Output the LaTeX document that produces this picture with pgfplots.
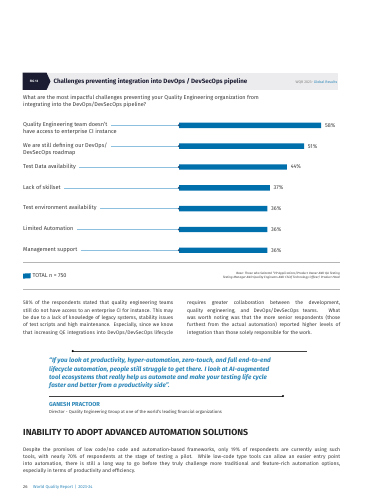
\documentclass[border=0pt]{standalone}
\usepackage{pgfplots}
\pgfplotsset{compat=1.18}
\usepackage{fontspec}
\setmainfont{Fira Sans}
\definecolor{barblue}{HTML}{0070AD}
\definecolor{leadc}{HTML}{8CC0DE}
\definecolor{dotblue}{HTML}{1F4E79}
\definecolor{txt}{HTML}{3A3A3A}
\definecolor{navy}{HTML}{1C1D33}
\definecolor{band}{HTML}{ECECEE}
\definecolor{quotec}{HTML}{2B86B8}
\definecolor{sepc}{HTML}{B5B5B5}
\newcommand{\fs}[2]{\fontsize{#1pt}{#2pt}\selectfont}
\newcommand{\jl}[3]{\node[anchor=base west, inner sep=0pt] at (#1) {\makebox[#2pt][s]{#3}};}
\newcommand{\pl}[2]{\node[anchor=base west, inner sep=0pt] at (#1) {#2};}
\tikzset{
  catlab/.style={font=\fs{5.6}{6.5}, text=txt, inner sep=0pt, text height=4pt, text depth=1.3pt},
  leaderline/.style={leadc, line width=0.5pt},
}
\begin{document}
\begin{tikzpicture}
\path[use as bounding box, fill=white] (0pt,0pt) rectangle (364pt,-500pt);
\begin{scope}[x=1pt,y=-1pt]
% header
\fill[band] (46,72.7) rectangle (338,90);
\fill[navy] (22.7,72.7) -- (46.5,72.7) -- (50.5,81.35) -- (46.5,90) -- (22.7,90) -- cycle;
\node[font=\bfseries\fs{3.2}{4}, text=white, inner sep=0pt] at (34,81.35) {FIG 13};
\node[anchor=base west, inner sep=0pt, font=\bfseries\fs{6.2}{7}, text=navy] at (53.3,83.6) {Challenges preventing integration into DevOps / DevSecOps pipeline};
\node[anchor=base east, inner sep=0pt, font=\fs{3.6}{4}] at (337.5,83.2) {\textcolor{gray}{WQR 2023-} \textcolor{quotec}{Global Results}};
% question
\begin{scope}[font=\fs{5.5}{6.5}, text=txt]
\pl{23,99.6}{What are the most impactful challenges preventing your Quality Engineering organization from}
\pl{23,106.2}{integrating into the DevOps/DevSecOps pipeline?}
\end{scope}
% separators
\draw[sepc, line width=0.8pt] (23,262.7) -- (340,262.7);
\draw[sepc, line width=0.8pt] (23,289.5) -- (340,289.5);
% base note
\begin{scope}[font=\itshape\fs{3.1}{3.6}, text=txt]
\node[anchor=base east, inner sep=0pt] at (340,274) {Base: Those who Selected ``VP Applications/Product Owner AND QA Testing};
\node[anchor=base east, inner sep=0pt] at (340,278.3) {Testing Manager AND Quality Engineers AND Chief Technology Officer/ Product Head};
\end{scope}
% body columns
\begin{scope}[font=\fs{5.05}{6}, text=txt]
\jl{23,304.6}{150}{58\% of the respondents stated that quality engineering teams}
\jl{23,312}{150}{still do not have access to an enterprise CI for instance. This may}
\jl{23,319.4}{150}{be due to a lack of knowledge of legacy systems, stability issues}
\jl{23,326.8}{150}{of test scripts and high maintenance. Especially, since we know}
\jl{23,334.2}{150}{that increasing QE integrations into DevOps/DevSecOps lifecycle}
\jl{187,304.6}{153}{requires greater collaboration between the development,}
\jl{187,312}{153}{quality engineering, and DevOps/DevSecOps teams. What}
\jl{187,319.4}{153}{was worth noting was that the more senior respondents (those}
\jl{187,326.8}{153}{furthest from the actual automation) reported higher levels of}
\pl{187,334.2}{integration than those solely responsible for the work.}
\end{scope}
% quote
\draw[black!75, line width=0.6pt] (72.7,351) -- (307,351);
\fill[black] (72.7,351) circle (1.2);
\draw[black!75, line width=0.6pt] (49,396) -- (283,396);
\fill[black] (283,396) circle (1.2);
\begin{scope}[font=\itshape\bfseries\fs{6.3}{8}, text=quotec]
\pl{49,362.7}{``If you look at productivity, hyper-automation, zero-touch, and full end-to-end}
\pl{49,371.1}{lifecycle automation, people still struggle to get there. I look at AI-augmented}
\pl{49,379.5}{tool ecosystems that really help us automate and make your testing life cycle}
\pl{49,387.9}{faster and better from a productivity side''.}
\end{scope}
\node[anchor=base west, inner sep=0pt, font=\bfseries\fs{5.8}{7}, text=quotec] at (49,406.2) {GANESH PRACTOOR};
\node[anchor=base west, inner sep=0pt, font=\fs{4.3}{5}, text=txt] at (49,413.8) {Director - Quality Engineering Group at one of the world's leading financial organizations};
% heading
\node[anchor=base west, inner sep=0pt, font=\bfseries\fs{8.75}{10}, text=black!85] at (23,435.6) {INABILITY TO ADOPT ADVANCED AUTOMATION SOLUTIONS};
\begin{scope}[font=\fs{5.05}{6}, text=txt]
\jl{23,451.2}{317}{Despite the promises of low code/no code and automation-based frameworks, only 19\% of respondents are currently using such}
\jl{23,458.2}{317}{tools, with nearly 70\% of respondents at the stage of testing a pilot. While low-code type tools can allow an easier entry point}
\jl{23,465.2}{317}{into automation, there is still a long way to go before they truly challenge more traditional and feature-rich automation options,}
\pl{23,472.2}{especially in terms of productivity and efficiency.}
\end{scope}
\node[anchor=base west, inner sep=0pt, font=\fs{4.2}{5}, text=txt] at (23,488.5) {26};
\node[anchor=base west, inner sep=0pt, font=\fs{4.2}{5}, text=quotec] at (33,488.5) {World Quality Report \,|\, 2023-24};
\end{scope}
\begin{axis}[
  at={(23pt,-114.9pt)}, anchor=north west,
  scale only axis, width=322pt, height=145.8pt,
  xmin=-63.7, xmax=67.7, ymin=-0.5, ymax=6.5, y dir=reverse,
  axis lines=none, ticks=none, clip=false,
  legend style={at={(0,-0.105)}, anchor=west, draw=none, fill=none,
    font=\fs{5.6}{6}, text=txt, inner sep=0pt, outer sep=0pt},
  legend cell align=left,
  legend image code/.code={\fill[barblue] (0pt,-2.6pt) -- (7.6pt,-2.2pt) -- (7.6pt,2.8pt) -- (0pt,2.4pt) -- cycle;},
]
\addplot[xbar, bar width=5.4pt, fill=barblue, draw=none,
  nodes near coords={\pgfmathprintnumber[assume math mode=true]{\pgfplotspointmeta}\%},
  point meta=x,
  every node near coord/.append style={font=\fs{5.5}{6}, text=txt, xshift=0.3pt}]
  coordinates {(58,0) (51,1) (44,2) (37,3) (36,4) (36,5) (36,6)};
\addlegendentry{TOTAL n = 750}
\addplot[only marks, mark=*, mark size=0.9pt, dotblue, forget plot]
  coordinates {(0,0) (0,1) (0,2) (0,3) (0,4) (0,5) (0,6)};
\node[catlab, anchor=west] (c0) at (axis cs:-63.7,0) {Quality Engineering team doesn't};
\node[catlab, anchor=west] at ([yshift=-7.3pt]c0.west) {have access to enterprise CI instance};
\node[catlab, anchor=west] (c1) at (axis cs:-63.7,1) {We are still defining our DevOps/};
\node[catlab, anchor=west] at ([yshift=-7.3pt]c1.west) {DevSecOps roadmap};
\node[catlab, anchor=west] (c2) at (axis cs:-63.7,2) {Test Data availability};
\node[catlab, anchor=west] (c3) at (axis cs:-63.7,3) {Lack of skillset};
\node[catlab, anchor=west] (c4) at (axis cs:-63.7,4) {Test environment availability};
\node[catlab, anchor=west] (c5) at (axis cs:-63.7,5) {Limited Automation};
\node[catlab, anchor=west] (c6) at (axis cs:-63.7,6) {Management support};
\draw[leaderline] ([xshift=3pt]c0.east) -- (axis cs:0,0);
\draw[leaderline] ([xshift=3pt]c1.east) -- (axis cs:0,1);
\draw[leaderline] ([xshift=3pt]c2.east) -- (axis cs:0,2);
\draw[leaderline] ([xshift=3pt]c3.east) -- (axis cs:0,3);
\draw[leaderline] ([xshift=3pt]c4.east) -- (axis cs:0,4);
\draw[leaderline] ([xshift=3pt]c5.east) -- (axis cs:0,5);
\draw[leaderline] ([xshift=3pt]c6.east) -- (axis cs:0,6);
\end{axis}
\end{tikzpicture}
\end{document}
